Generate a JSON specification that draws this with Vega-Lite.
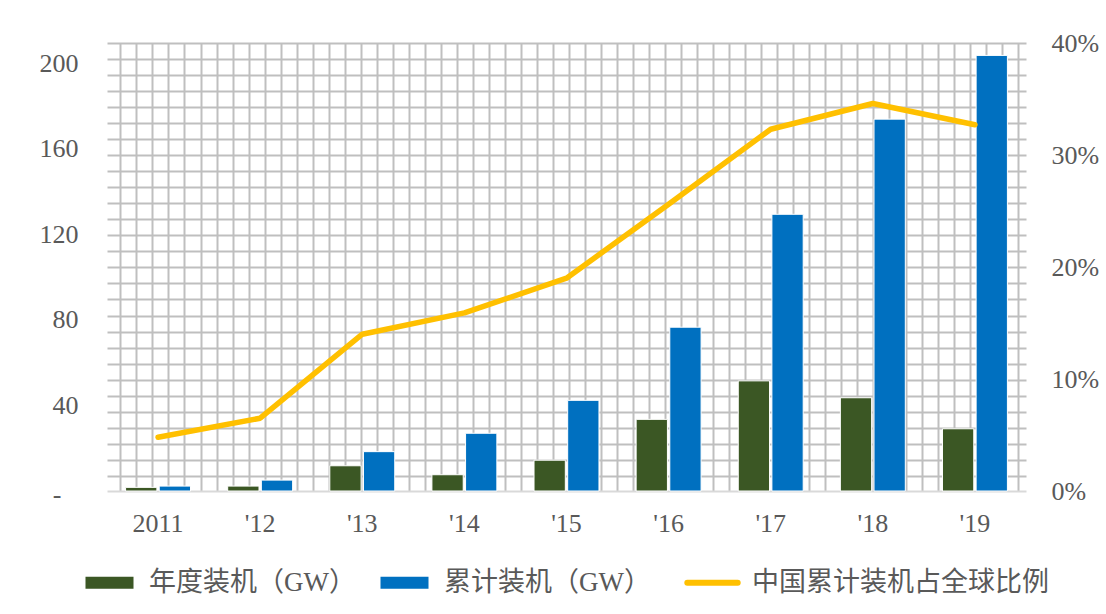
{
  "$schema": "https://vega.github.io/schema/vega-lite/v6.json",
  "width": 919,
  "height": 448,
  "autosize": {"type": "none"},
  "padding": {"left": 107, "top": 43, "right": 80, "bottom": 123},
  "background": "white",
  "config": {
    "view": {"stroke": null},
    "axis": {
      "labelFont": "Liberation Serif",
      "labelFontSize": 26,
      "labelColor": "#595959",
      "title": null,
      "ticks": false
    }
  },
  "data": {
    "values": [
      {"year": "2011", "series": "年度装机（GW）", "value": 1.7},
      {"year": "2011", "series": "累计装机（GW）", "value": 2.3},
      {"year": "2011", "series": "中国累计装机占全球比例", "value": 0.048},
      {"year": "'12", "series": "年度装机（GW）", "value": 2.3},
      {"year": "'12", "series": "累计装机（GW）", "value": 5.1},
      {"year": "'12", "series": "中国累计装机占全球比例", "value": 0.065},
      {"year": "'13", "series": "年度装机（GW）", "value": 11.8},
      {"year": "'13", "series": "累计装机（GW）", "value": 18.4},
      {"year": "'13", "series": "中国累计装机占全球比例", "value": 0.14},
      {"year": "'14", "series": "年度装机（GW）", "value": 7.6},
      {"year": "'14", "series": "累计装机（GW）", "value": 27.0},
      {"year": "'14", "series": "中国累计装机占全球比例", "value": 0.159},
      {"year": "'15", "series": "年度装机（GW）", "value": 14.4},
      {"year": "'15", "series": "累计装机（GW）", "value": 42.4},
      {"year": "'15", "series": "中国累计装机占全球比例", "value": 0.19},
      {"year": "'16", "series": "年度装机（GW）", "value": 33.5},
      {"year": "'16", "series": "累计装机（GW）", "value": 76.6},
      {"year": "'16", "series": "中国累计装机占全球比例", "value": 0.256},
      {"year": "'17", "series": "年度装机（GW）", "value": 51.5},
      {"year": "'17", "series": "累计装机（GW）", "value": 129.4},
      {"year": "'17", "series": "中国累计装机占全球比例", "value": 0.323},
      {"year": "'18", "series": "年度装机（GW）", "value": 43.6},
      {"year": "'18", "series": "累计装机（GW）", "value": 173.9},
      {"year": "'18", "series": "中国累计装机占全球比例", "value": 0.346},
      {"year": "'19", "series": "年度装机（GW）", "value": 29.1},
      {"year": "'19", "series": "累计装机（GW）", "value": 203.7},
      {"year": "'19", "series": "中国累计装机占全球比例", "value": 0.327}
    ]
  },
  "layer": [
    {
      "description": "Background lattice: grid-only axes on hidden unit scales",
      "mark": {"type": "point", "opacity": 0},
      "encoding": {
        "x": {
          "datum": 0,
          "type": "quantitative",
          "scale": {"domain": [-0.836, 56.52], "nice": false, "zero": false},
          "axis": {
            "orient": "top",
            "values": [0,1,2,3,4,5,6,7,8,9,10,11,12,13,14,15,16,17,18,19,20,21,22,23,24,25,26,27,28,29,30,31,32,33,34,35,36,37,38,39,40,41,42,43,44,45,46,47,48,49,50,51,52,53,54,55,56],
            "labels": false,
            "domain": false,
            "grid": true,
            "gridColor": "#bfbfbf",
            "gridWidth": 2
          }
        },
        "y": {
          "datum": 0,
          "type": "quantitative",
          "scale": {"domain": [-0.948, 27], "nice": false, "zero": false},
          "axis": {
            "orient": "left",
            "values": [0,1,2,3,4,5,6,7,8,9,10,11,12,13,14,15,16,17,18,19,20,21,22,23,24,25,26,27],
            "labels": false,
            "domain": false,
            "grid": true,
            "gridColor": "#bfbfbf",
            "gridWidth": 2
          }
        }
      }
    },
    {
      "encoding": {
        "x": {
          "field": "year",
          "type": "nominal",
          "sort": ["2011", "'12", "'13", "'14", "'15", "'16", "'17", "'18", "'19"],
          "scale": {"paddingInner": 0.364, "paddingOuter": 0.182},
          "axis": {
            "orient": "bottom",
            "labelAngle": 0,
            "labelPadding": 19,
            "domain": true,
            "domainColor": "#d9d9d9",
            "domainWidth": 2,
            "grid": false
          }
        },
        "color": {
          "field": "series",
          "type": "nominal",
          "scale": {
            "domain": ["年度装机（GW）", "累计装机（GW）", "中国累计装机占全球比例"],
            "range": ["#3b5724", "#0070c0", "#ffc000"]
          },
          "legend": {
            "title": null,
            "orient": "none",
            "legendX": -11,
            "legendY": 526,
            "direction": "horizontal",
            "columnPadding": 24,
            "symbolSize": 2304,
            "labelOffset": 26,
            "labelLimit": 0,
            "labelFont": "Liberation Serif, Noto Sans CJK SC",
            "labelFontSize": 27,
            "labelColor": "#595959",
            "encode": {
              "symbols": {
                "update": {
                  "shape": {"signal": "datum.value === '中国累计装机占全球比例' ? 'M-1.05,0H1.05' : 'M-1,-0.25H1V0.25H-1Z'"},
                  "fill": {"signal": "datum.value === '中国累计装机占全球比例' ? 'transparent' : scale('color', datum.value)"},
                  "stroke": {"signal": "scale('color', datum.value)"},
                  "strokeWidth": {"signal": "datum.value === '中国累计装机占全球比例' ? 6 : 0"},
                  "strokeCap": {"value": "round"},
                  "opacity": {"value": 1}
                }
              }
            }
          }
        }
      },
      "layer": [
        {
          "transform": [{"filter": "datum.series !== '中国累计装机占全球比例'"}],
          "mark": {"type": "bar", "stroke": "white", "strokeWidth": 1},
          "encoding": {
            "xOffset": {
              "field": "series",
              "type": "nominal",
              "scale": {"domain": ["年度装机（GW）", "累计装机（GW）"], "paddingInner": 0.07}
            },
            "y": {
              "field": "value",
              "type": "quantitative",
              "scale": {"domain": [0, 209.5], "nice": false},
              "axis": {
                "orient": "left",
                "values": [0, 40, 80, 120, 160, 200],
                "labelExpr": "datum.value === 0 ? '-' : datum.label",
                "labelPadding": {"condition": {"test": "datum.value === 0", "value": 46}, "value": 29},
                "labelOffset": {"condition": {"test": "datum.value === 0", "value": 3}, "value": 0},
                "domain": false,
                "grid": false
              }
            }
          }
        },
        {
          "transform": [{"filter": "datum.series === '中国累计装机占全球比例'"}],
          "mark": {"type": "line", "strokeWidth": 5.5, "strokeCap": "round", "strokeJoin": "round"},
          "encoding": {
            "y": {
              "field": "value",
              "type": "quantitative",
              "scale": {"domain": [0, 0.4], "nice": false},
              "axis": {
                "orient": "right",
                "values": [0, 0.1, 0.2, 0.3, 0.4],
                "format": ".0%",
                "labelPadding": 25,
                "domain": false,
                "grid": false
              }
            }
          }
        }
      ],
      "resolve": {"scale": {"y": "independent"}, "axis": {"y": "independent"}}
    }
  ],
  "resolve": {
    "scale": {"x": "independent", "y": "independent"},
    "axis": {"x": "independent", "y": "independent"}
  }
}
